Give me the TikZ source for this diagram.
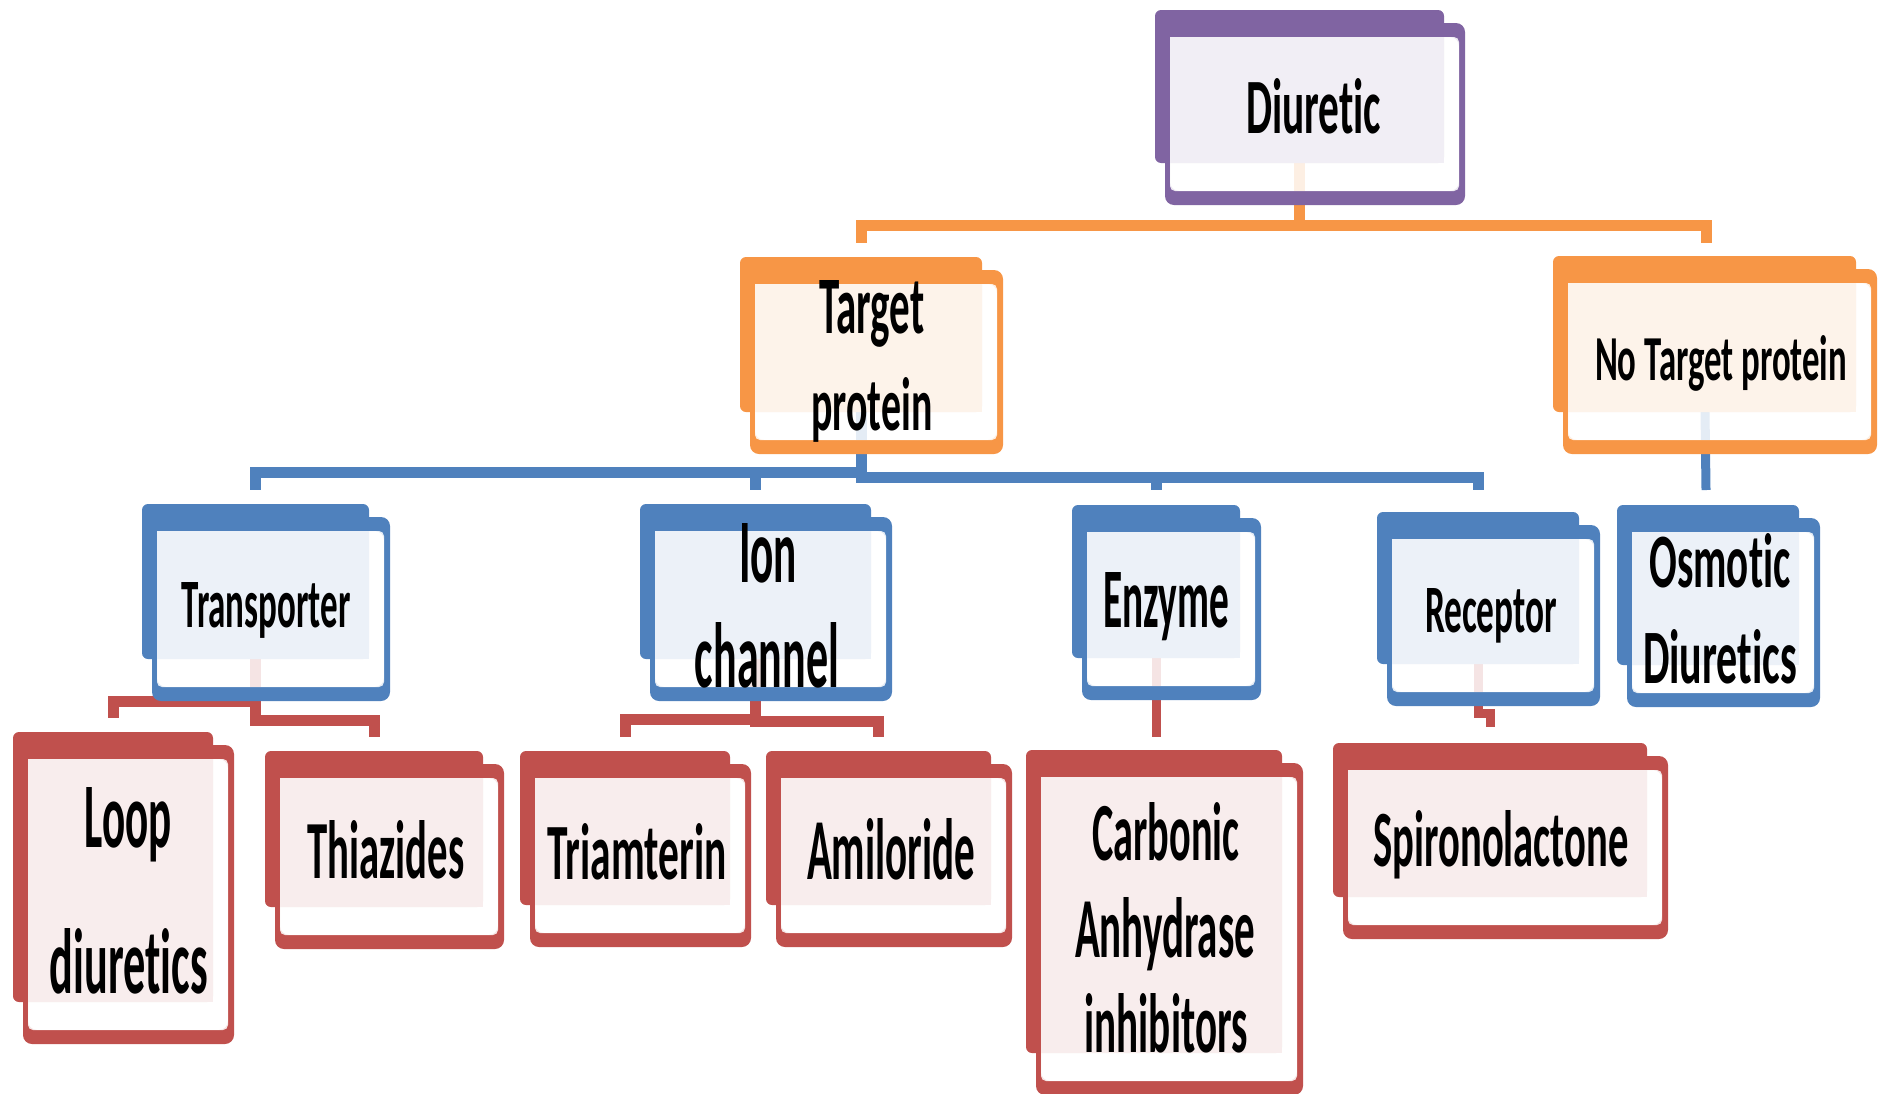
\documentclass[tikz,border=0pt]{standalone}
\usepackage{fontspec}
\setmainfont{Carlito}[Ligatures={NoCommon,NoRequired,NoContextual}]
\usepackage{graphicx}
\definecolor{pur}{HTML}{8064A2}\definecolor{purT}{HTML}{F1EEF5}
\definecolor{org}{HTML}{F79646}\definecolor{orgT}{HTML}{FDF3EA}
\definecolor{blu}{HTML}{4F81BD}\definecolor{bluT}{HTML}{ECF1F8}
\definecolor{rd}{HTML}{C0504D}\definecolor{rdT}{HTML}{F8EDED}
\newcommand\obox[7]{%
 \node[inner sep=0pt, outer sep=0pt, fill=#6, rounded corners=6pt,
   minimum width={(#4-#2)*1pt}, minimum height={(#5-#3)*1pt}] (#1) at ({(#2+#4)/2},{(#3+#5)/2}) {};
 \fill[#6, even odd rule, rounded corners=9pt] ({#2+10},{#3+13}) rectangle ({#4+21},{#5+42})
   ({#2+15},{#3+27}) rectangle ({#4+15},{#5+28});
 \fill[white, opacity=0.85, rounded corners=5pt] ({#2+15},{#3+27}) rectangle ({#4+15},{#5+28});
 \fill[#7] ({#2+15},{#3+27}) rectangle (#4,#5);
}
\newcommand\lbl[6]{\node[inner sep=0pt, anchor=base] (#1) at (#2,#3) {\resizebox{#4pt}{#5pt}{\bfseries #6}};}
\tikzset{conn/.style={line width=9pt}, bus/.style={line width=11pt}}
\begin{document}
\begin{tikzpicture}[x=1pt,y=-1pt]
\useasboundingbox (0,0) rectangle (1878,1093);
% anchors of the connectors (the boxes are drawn later over them)
\path (1299.5,163) coordinate (diurB) (861,412) coordinate (tpB) (1705,412) coordinate (ntpB)
      (255.5,659) coordinate (transB) (755.5,659) coordinate (ionB) (1156,658) coordinate (enzB)
      (1478,664) coordinate (recB);
% connectors
\draw[bus, org] (diurB) -- (diurB |- 0,225) -| (861,243) coordinate (tpT);
\draw[bus, org] (diurB) -- (diurB |- 0,225) -| (1706,243) coordinate (ntpT);
\draw[bus, blu] (tpB) -- (tpB |- 0,472) -| (255.5,490) coordinate (transT);
\draw[bus, blu] (tpB) -- (tpB |- 0,472) -| (755.5,490) coordinate (ionT);
\draw[bus, blu] (tpB) -- (tpB |- 0,477) -| (1156,490) coordinate (enzT);
\draw[bus, blu] (tpB) -- (tpB |- 0,477) -| (1478,490) coordinate (recT);
\draw[conn, blu] (ntpB) -- (1706,490) coordinate (osmT);
\draw[bus, rd] (transB) -- (transB |- 0,701) -| (113,718) coordinate (loopT);
\draw[bus, rd] (transB) -- (transB |- 0,720) -| (374,737) coordinate (thiaT);
\draw[bus, rd] (ionB) -- (ionB |- 0,719) -| (625,737) coordinate (triaT);
\draw[bus, rd] (ionB) -- (ionB |- 0,721) -| (878.5,737) coordinate (amilT);
\draw[conn, rd] (enzB) -- (1156,737) coordinate (carbT);
\draw[conn, rd] (recB) -- (recB |- 0,713) -| (1490,727) coordinate (spirT);
% boxes
\obox{diur}{1155}{10}{1444}{163}{pur}{purT}
\obox{tp}{740}{257}{982}{412}{org}{orgT}
\obox{ntp}{1553}{256}{1856}{412}{org}{orgT}
\obox{trans}{142}{504}{369}{659}{blu}{bluT}
\obox{ion}{640}{504}{871}{659}{blu}{bluT}
\obox{enz}{1072}{505}{1240}{658}{blu}{bluT}
\obox{rec}{1377}{512}{1579}{664}{blu}{bluT}
\obox{osm}{1617}{505}{1799}{665}{blu}{bluT}
\obox{loop}{13}{732}{213}{1002}{rd}{rdT}
\obox{thia}{265}{751}{483}{907}{rd}{rdT}
\obox{tria}{520}{751}{730}{905}{rd}{rdT}
\obox{amil}{766}{751}{991}{905}{rd}{rdT}
\obox{carb}{1026}{750}{1282}{1053}{rd}{rdT}
\obox{spir}{1333}{743}{1647}{897}{rd}{rdT}
% labels
\lbl{tDiur}{1313.5}{133}{135}{55}{Diuretic}
\lbl{tTarget}{872}{333}{105}{53}{Target}
\lbl{tProtein}{872}{430}{121}{53}{protein}
\lbl{tNo}{1721}{380}{252}{45}{No Target protein}
\lbl{tTrans}{266}{627}{169}{45}{Transporter}
\lbl{tIon}{768}{582}{58}{59}{Ion}
\lbl{tChan}{767}{687}{144}{65}{channel}
\lbl{tEnz}{1166}{627}{126}{55}{Enzyme}
\lbl{tRec}{1491}{632}{132}{44}{Receptor}
\lbl{tOsm}{1720}{587}{141}{54}{Osmotic}
\lbl{tDiurs}{1720}{683}{154}{54}{Diuretics}
\lbl{tLoop}{128}{847}{87}{60}{Loop}
\lbl{tLoopd}{129}{993}{158}{65}{diuretics}
\lbl{tThia}{386}{878}{157}{58}{Thiazides}
\lbl{tTria}{637}{879}{179}{56}{Triamterin}
\lbl{tAmil}{891}{879}{168}{61}{Amiloride}
\lbl{tCarb}{1166}{860}{147}{58}{Carbonic}
\lbl{tAnh}{1165}{957}{180}{60}{Anhydrase}
\lbl{tInh}{1166}{1052}{163}{59}{inhibitors}
\lbl{tSpir}{1501}{866}{255}{56}{Spironolactone}
\end{tikzpicture}
\end{document}
